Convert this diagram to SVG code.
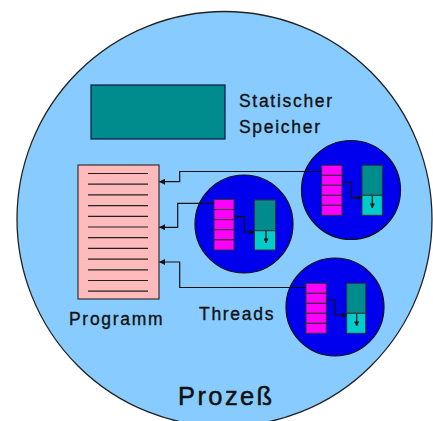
<svg xmlns="http://www.w3.org/2000/svg" width="433" height="421" viewBox="0 0 433 421">
<style>
.lbl{font-family:"Liberation Sans",Arial,sans-serif;font-size:17.5px;fill:#111;stroke:#111;stroke-width:0.35;letter-spacing:1.7px}
.big{font-family:"Liberation Sans",Arial,sans-serif;font-size:25.5px;fill:#111;stroke:#111;stroke-width:0.5;letter-spacing:2.4px}
.thr{fill:#0000EE;stroke:#111;stroke-width:1.2}
.stk{fill:#FF00FF;stroke:#333;stroke-width:1}
.top{fill:#008C8C;stroke:#333;stroke-width:1}
.bot{fill:#00CCCC;stroke:#333;stroke-width:1}
.ln{fill:none;stroke:#111;stroke-width:1.2}
.pl{stroke:#222;stroke-width:1.2}
</style>
<defs>
<marker id="ah" viewBox="0 0 6 6" refX="5.5" refY="3" markerWidth="6" markerHeight="6" markerUnits="userSpaceOnUse" orient="auto">
<path d="M0,0 L6,3 L0,6 Z" fill="#111"/>
</marker>
<marker id="sa" viewBox="0 0 6 6" refX="5.5" refY="3" markerWidth="5" markerHeight="5" markerUnits="userSpaceOnUse" orient="auto">
<path d="M0,0 L6,3 L0,6 Z" fill="#111"/>
</marker>
</defs>
<rect width="433" height="421" fill="#ffffff"/>
<g id="process">
<circle cx="224.5" cy="219" r="207.5" fill="#88CCFF" stroke="#222" stroke-width="1.3"/>
<text class="big" x="178" y="405">Prozeß</text>
</g>
<g id="static">
<rect x="91" y="85" width="134" height="54" fill="#008C8C" stroke="#114" stroke-width="1.2"/>
<text class="lbl" x="239" y="106.5">Statischer</text>
<text class="lbl" x="239" y="133">Speicher</text>
</g>
<g id="programm">
<rect x="78" y="165" width="81" height="134" fill="#FFBBBB" stroke="#333" stroke-width="1.2"/>
<g class="pl">
<line x1="88" y1="173.5" x2="148" y2="173.5"/>
<line x1="88" y1="184.2" x2="148" y2="184.2"/>
<line x1="88" y1="194.9" x2="148" y2="194.9"/>
<line x1="88" y1="205.6" x2="148" y2="205.6"/>
<line x1="88" y1="216.3" x2="148" y2="216.3"/>
<line x1="88" y1="227" x2="148" y2="227"/>
<line x1="88" y1="237.7" x2="148" y2="237.7"/>
<line x1="88" y1="248.4" x2="148" y2="248.4"/>
<line x1="88" y1="259.1" x2="148" y2="259.1"/>
<line x1="88" y1="269.8" x2="148" y2="269.8"/>
<line x1="88" y1="280.5" x2="148" y2="280.5"/>
<line x1="88" y1="291.2" x2="148" y2="291.2"/>
</g>
<text class="lbl" x="69" y="325">Programm</text>
</g>
<text class="lbl" x="199" y="320">Threads</text>
<g id="thread1">
<circle class="thr" cx="244" cy="224" r="49"/>
<rect class="stk" x="214" y="199.5" width="20" height="10.1"/>
<rect class="stk" x="214" y="209.6" width="20" height="10.1"/>
<rect class="stk" x="214" y="219.7" width="20" height="10.1"/>
<rect class="stk" x="214" y="229.8" width="20" height="10.1"/>
<rect class="stk" x="214" y="239.9" width="20" height="10.1"/>
<rect class="top" x="254.5" y="200" width="21" height="30.7"/>
<rect class="bot" x="254.5" y="230.7" width="21" height="19.3"/>
<path class="ln" d="M234,216.7 H244.3 V232 H254" marker-end="url(#sa)"/>
<path class="ln" d="M266,231 V243" marker-end="url(#sa)"/>
</g>
<g id="thread2">
<circle class="thr" cx="351" cy="190" r="49.5"/>
<rect class="stk" x="321.7" y="165.3" width="20.3" height="10"/>
<rect class="stk" x="321.7" y="175.3" width="20.3" height="10"/>
<rect class="stk" x="321.7" y="185.3" width="20.3" height="10"/>
<rect class="stk" x="321.7" y="195.3" width="20.3" height="10"/>
<rect class="stk" x="321.7" y="205.3" width="20.3" height="10"/>
<rect class="top" x="362" y="165.3" width="20.3" height="30"/>
<rect class="bot" x="362" y="195.3" width="20.3" height="20"/>
<path class="ln" d="M342,182 H351 V197.7 H362" marker-end="url(#sa)"/>
<path class="ln" d="M372.3,196 V208" marker-end="url(#sa)"/>
</g>
<g id="thread3">
<circle class="thr" cx="335" cy="307" r="49"/>
<rect class="stk" x="306" y="283.3" width="20.3" height="10"/>
<rect class="stk" x="306" y="293.3" width="20.3" height="10"/>
<rect class="stk" x="306" y="303.3" width="20.3" height="10"/>
<rect class="stk" x="306" y="313.3" width="20.3" height="10"/>
<rect class="stk" x="306" y="323.3" width="20.3" height="10"/>
<rect class="top" x="346.7" y="283.3" width="19" height="30"/>
<rect class="bot" x="346.7" y="313.3" width="19" height="20"/>
<path class="ln" d="M326.3,300 H335 V315 H346.7" marker-end="url(#sa)"/>
<path class="ln" d="M356.7,314 V326" marker-end="url(#sa)"/>
</g>
<g id="connectors">
<path class="ln" d="M321.7,171.5 H179.7 V181.7 H159.5" marker-end="url(#ah)"/>
<path class="ln" d="M214,203.3 H177.7 V227.3 H159.5" marker-end="url(#ah)"/>
<path class="ln" d="M306,287.5 H179.7 V262 H159.5" marker-end="url(#ah)"/>
</g>
</svg>
